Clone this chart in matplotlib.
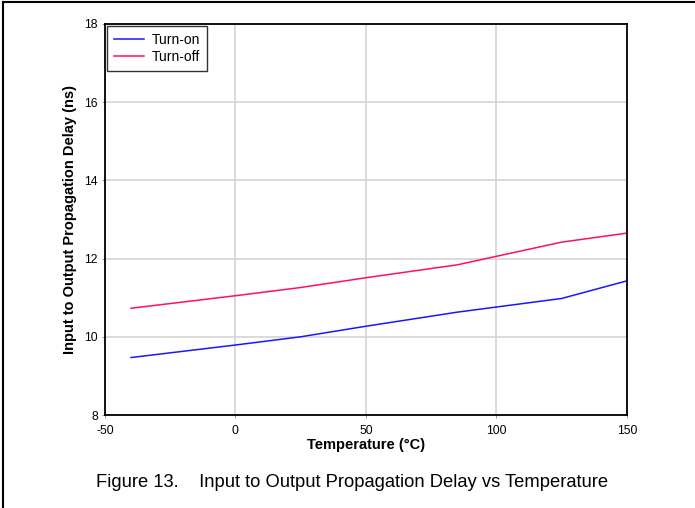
import matplotlib.pyplot as plt
from matplotlib.lines import Line2D

plt.rcParams['font.family'] = ['Liberation Sans', 'DejaVu Sans']
plt.rcParams['axes.unicode_minus'] = False

# Propagation delay vs temperature
temp_c = [-40, 0, 25, 50, 85, 125, 150]
turn_on_ns = [9.47, 9.79, 10.0, 10.27, 10.63, 10.98, 11.43]
turn_off_ns = [10.73, 11.05, 11.26, 11.51, 11.84, 12.42, 12.65]

x_ticks = [-50, 0, 50, 100, 150]
y_ticks = [8, 10, 12, 14, 16, 18]

fig = plt.figure(figsize=(6.95, 5.08), dpi=100)
ax = fig.add_axes([0.151, 0.183, 0.751, 0.770])

ax.plot(temp_c, turn_on_ns, color='#1818ff', linewidth=1.1, label='Turn-on')
ax.plot(temp_c, turn_off_ns, color='#ff1060', linewidth=1.1, label='Turn-off')

ax.set_xlim(-50, 150)
ax.set_ylim(8, 18)
ax.set_xticks(x_ticks)
ax.set_yticks(y_ticks)
ax.grid(True, color='#d4d4d4', linewidth=1.2)
ax.set_axisbelow(True)
ax.tick_params(length=2, width=0.6, color='#888888', labelsize=8.7, pad=3)
ax.tick_params(axis='x', pad=5)
for s in ax.spines.values():
    s.set_linewidth(1.3)
    s.set_color('black')

ax.set_xlabel('Temperature (°C)', fontsize=10.5, fontweight='bold', labelpad=1)
ax.set_ylabel('Input to Output Propagation Delay (ns)', fontsize=10.5,
              fontweight='bold', labelpad=5)

leg = ax.legend(loc='upper left', fontsize=10, frameon=True, fancybox=False,
                borderaxespad=0.15, handlelength=2.15, handletextpad=0.6,
                labelspacing=0.2, borderpad=0.5)
leg.get_frame().set_edgecolor('black')
leg.get_frame().set_linewidth(1.0)

fig.text(0.507, 0.051, 'Figure 13.    Input to Output Propagation Delay vs Temperature',
         ha='center', va='center', fontsize=13.2)

# page frame on the left and top edges
fig.add_artist(Line2D([0.005, 0.005], [0, 0.996], color='black', linewidth=1.5,
                      transform=fig.transFigure))
fig.add_artist(Line2D([0.005, 1.0], [0.996, 0.996], color='black', linewidth=1.5,
                      transform=fig.transFigure))

fig.savefig('out.png', dpi=100)
